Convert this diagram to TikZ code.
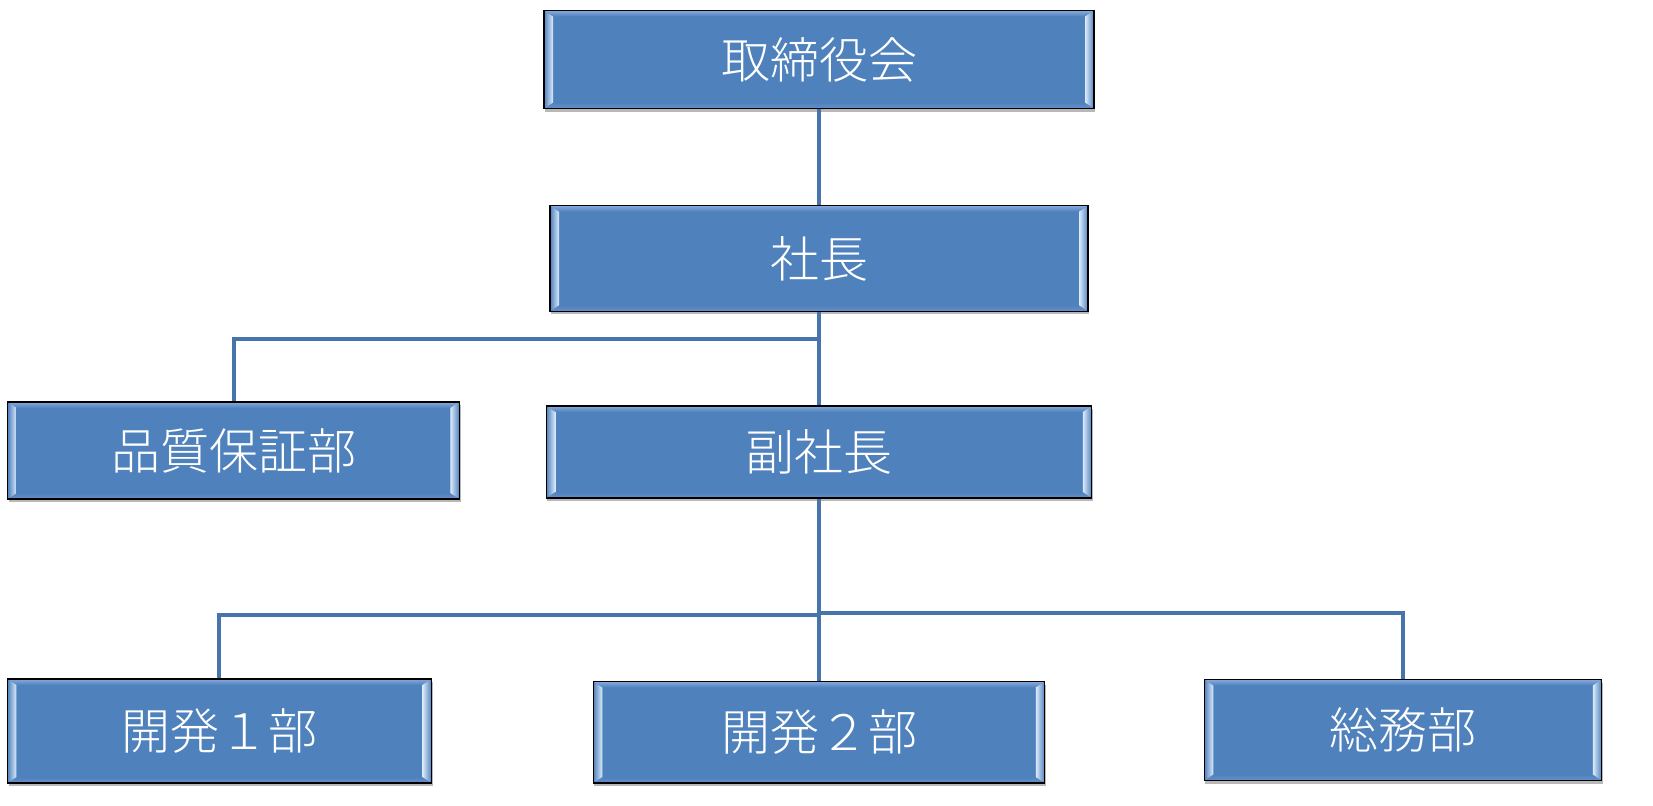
\documentclass[tikz,border=0pt]{standalone}
\usepackage{fontspec}
\IfFontExistsTF{Noto Sans CJK JP Light}
  {\newfontfamily\jp{Noto Sans CJK JP Light}}
  {\newfontfamily\jp{Noto Sans CJK JP}}
\usetikzlibrary{shadows}
\definecolor{boxblue}{HTML}{4F81BD}
\definecolor{hilite}{HTML}{DCEBFB}
\definecolor{toplite}{HTML}{86AADB}
\definecolor{botlite}{HTML}{6890C8}
\definecolor{conn}{HTML}{4874AC}
\tikzset{
  orgbox/.style={draw=black, line width=0.7pt, fill=boxblue, inner sep=0pt,
    text=white, font=\jp\fontsize{24.5}{28}\selectfont,
    drop shadow={shadow xshift=0.6pt, shadow yshift=-1.6pt, fill=black, opacity=0.28},
    path picture={
      \coordinate (bnw) at (path picture bounding box.north west);
      \coordinate (bne) at (path picture bounding box.north east);
      \coordinate (bsw) at (path picture bounding box.south west);
      \coordinate (bse) at (path picture bounding box.south east);
      \shade[top color=toplite, bottom color=boxblue] (bnw) -- (bne) -- ([shift={(-4.5pt,-3pt)}]bne) -- ([shift={(4.5pt,-3pt)}]bnw) -- cycle;
      \shade[top color=boxblue, bottom color=botlite] (bsw) -- (bse) -- ([shift={(-4.5pt,3pt)}]bse) -- ([shift={(4.5pt,3pt)}]bsw) -- cycle;
      \shade[left color=boxblue, right color=hilite] (bnw) -- ([shift={(4.5pt,-3pt)}]bnw) -- ([shift={(4.5pt,3pt)}]bsw) -- (bsw) -- cycle;
      \shade[left color=hilite, right color=boxblue] (bne) -- ([shift={(-4.5pt,-3pt)}]bne) -- ([shift={(-4.5pt,3pt)}]bse) -- (bse) -- cycle;
    }},
  link/.style={draw=conn, line width=2pt}
}
\begin{document}
\begin{tikzpicture}[x=0.5pt, y=-0.5pt]
\useasboundingbox (0,0) rectangle (1653,806);
\node[orgbox, minimum width=275pt, minimum height=49pt] (board) at (819,59.6) {取締役会};
\node[orgbox, minimum width=269pt, minimum height=52.75pt] (pres) at (819,258.5) {社長};
\node[orgbox, minimum width=225.8pt, minimum height=48.5pt] (qa) at (233.5,450.5) {品質保証部};
\node[orgbox, minimum width=272.75pt, minimum height=46pt] (vp) at (819,452) {副社長};
\node[orgbox, minimum width=212pt, minimum height=52pt] (dev1) at (219.4,731) {開発１部};
\node[orgbox, minimum width=225.75pt, minimum height=50.75pt] (dev2) at (819,732.3) {開発２部};
\node[orgbox, minimum width=198.75pt, minimum height=50.5pt] (ga) at (1403,730) {総務部};
\coordinate (j1) at (819,338.7);
\coordinate (j2) at (819,615);
\coordinate (j3) at (819,613);
\draw[link] (board.south) -- (pres.north);
\draw[link] (pres.south) -- (vp.north);
\draw[link] (j1) -| (qa.north);
\draw[link] (vp.south) -- (dev2.north);
\draw[link] (j2) -| (dev1.north);
\draw[link] (j3) -| (ga.north);
\end{tikzpicture}
\end{document}
